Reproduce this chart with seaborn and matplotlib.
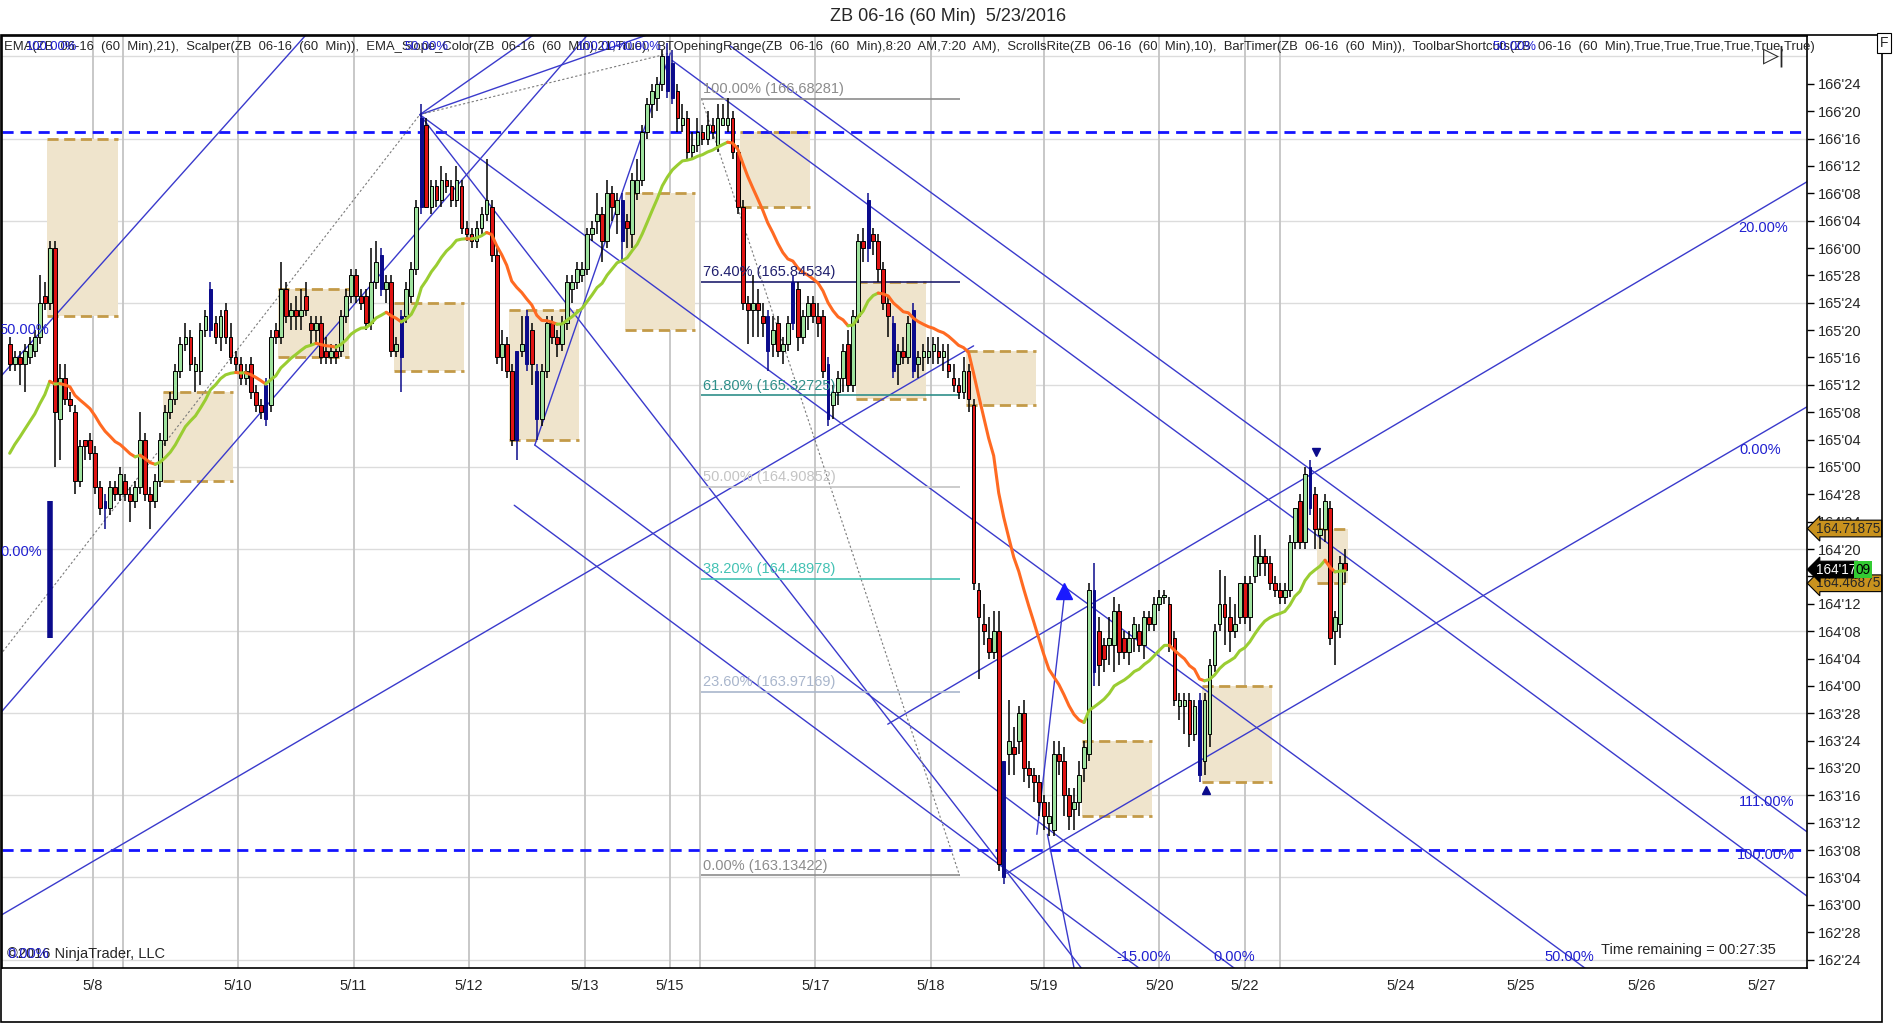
import matplotlib
matplotlib.use("Agg")
import matplotlib.pyplot as plt
import matplotlib.transforms as mtransforms
from matplotlib.patches import Rectangle
import numpy as np
import pandas as pd
import seaborn as sns

# ZB 06-16, 60 minute bars. Prices are in 32nds above 162'00 (162'24 -> 24, 166'24 -> 152)
opens = [114, 111, 112, 111, 112, 113, 115, 121, 120, 128, 103, 109, 106, 104, 94, 100, 100, 98, 93, 90,
         90, 93, 92, 94, 92, 91, 93, 100, 92, 91, 94, 100, 104, 106, 110, 114, 115, 110, 110, 116,
         116, 117, 115, 119, 115, 112, 111, 109, 111, 107, 105, 108, 105, 116, 115, 122, 118, 119, 118, 121,
         117, 116, 117, 113, 112, 113, 113, 118, 121, 124, 121, 121, 117, 123, 127, 122, 123, 113, 118, 118,
         121, 125, 134, 146, 134, 137, 135, 138, 137, 135, 137, 131, 130, 129, 131, 133, 134, 127, 112, 114,
         110, 100, 113, 118, 116, 110, 103, 110, 117, 115, 114, 117, 122, 123, 124, 125, 130, 132, 133, 129,
         136, 133, 135, 132, 130, 136, 138, 145, 149, 150, 152, 156, 155, 151, 146, 147, 142, 143, 145, 144,
         146, 143, 146, 146, 147, 142, 134, 120, 119, 120, 118, 118, 114, 117, 113, 114, 117, 122, 115, 118,
         120, 118, 118, 111, 105, 107, 109, 114, 108, 118, 129, 128, 130, 129, 125, 120, 117, 111, 113, 112,
         119, 111, 112, 112, 113, 113, 112, 111, 109, 108, 107, 110, 105, 78, 73, 71, 69, 72, 36, 54,
         55, 56, 60, 52, 51, 50, 47, 44, 43, 54, 53, 48, 46, 47, 52, 54, 78, 72, 70, 70,
         70, 75, 71, 69, 71, 72, 70, 74, 73, 76, 77, 76, 71, 61, 61, 62, 57, 62, 53, 57,
         67, 73, 76, 74, 72, 74, 79, 74, 80, 82, 83, 82, 79, 78, 77, 78, 85, 91, 85, 96,
         92, 86, 87, 90, 72, 73, 82]
highs = [115, 113, 113, 114, 115, 116, 124, 123, 129, 129, 111, 111, 107, 105, 100, 100, 101, 99, 94, 92,
         94, 94, 96, 95, 93, 94, 104, 101, 93, 95, 101, 105, 107, 111, 115, 117, 116, 112, 117, 119,
         123, 118, 119, 120, 117, 113, 112, 111, 112, 108, 106, 109, 116, 117, 126, 123, 120, 121, 122, 123,
         118, 118, 118, 115, 114, 114, 119, 122, 125, 125, 122, 122, 128, 129, 128, 124, 124, 115, 119, 123,
         126, 135, 149, 147, 138, 138, 140, 139, 138, 140, 138, 132, 131, 132, 134, 141, 135, 128, 116, 115,
         111, 113, 118, 119, 117, 111, 111, 118, 118, 116, 118, 124, 124, 126, 126, 131, 132, 136, 134, 138,
         137, 136, 136, 133, 139, 141, 146, 150, 152, 153, 157, 158, 157, 152, 149, 148, 145, 147, 146, 148,
         147, 149, 149, 150, 148, 143, 135, 121, 124, 122, 120, 119, 118, 118, 115, 118, 124, 123, 119, 121,
         121, 120, 119, 112, 108, 110, 114, 116, 119, 130, 131, 136, 131, 130, 126, 121, 118, 114, 115, 118,
         120, 113, 114, 115, 115, 115, 114, 114, 111, 109, 112, 111, 106, 79, 76, 74, 75, 75, 53, 62,
         58, 61, 62, 53, 52, 51, 48, 47, 56, 56, 55, 49, 49, 53, 56, 79, 82, 74, 71, 74,
         77, 76, 72, 72, 74, 73, 75, 75, 77, 78, 78, 77, 72, 63, 63, 63, 62, 63, 63, 68,
         73, 81, 80, 77, 76, 79, 80, 80, 86, 86, 84, 83, 80, 79, 79, 86, 90, 92, 96, 97,
         93, 90, 92, 91, 75, 83, 84]
lows = [110, 110, 108, 107, 111, 112, 114, 119, 119, 96, 97, 105, 104, 92, 93, 97, 97, 92, 89, 87,
        89, 91, 91, 91, 88, 90, 92, 91, 87, 90, 93, 99, 103, 105, 109, 113, 110, 107, 108, 115,
        115, 114, 113, 114, 111, 110, 108, 108, 106, 104, 103, 102, 104, 114, 114, 117, 116, 116, 116, 118,
        114, 114, 111, 111, 111, 111, 112, 117, 120, 120, 119, 116, 116, 122, 121, 120, 112, 112, 107, 117,
        120, 124, 133, 134, 133, 134, 134, 136, 134, 134, 130, 129, 128, 128, 130, 132, 126, 111, 110, 109,
        99, 97, 112, 110, 108, 100, 102, 109, 114, 112, 113, 116, 120, 122, 123, 124, 129, 130, 126, 128,
        132, 130, 126, 128, 128, 135, 137, 144, 147, 148, 151, 150, 149, 145, 145, 141, 141, 142, 143, 143,
        144, 142, 146, 145, 141, 133, 119, 114, 115, 115, 115, 110, 112, 112, 111, 113, 116, 113, 114, 116,
        117, 115, 109, 102, 103, 105, 107, 107, 107, 117, 126, 126, 127, 123, 119, 115, 109, 108, 111, 111,
        109, 109, 110, 111, 111, 111, 110, 109, 107, 106, 106, 104, 78, 65, 70, 68, 68, 37, 35, 51,
        51, 54, 50, 49, 47, 45, 43, 42, 42, 51, 45, 43, 43, 45, 50, 53, 64, 64, 66, 67,
        66, 67, 68, 67, 69, 69, 68, 72, 72, 75, 76, 69, 61, 59, 57, 55, 56, 50, 51, 55,
        66, 72, 70, 69, 71, 73, 73, 72, 79, 80, 80, 78, 77, 76, 76, 77, 84, 84, 84, 89,
        84, 84, 85, 70, 67, 71, 79]
closes = [111, 112, 111, 113, 114, 115, 120, 120, 128, 104, 109, 106, 105, 94, 99, 99, 98, 93, 90, 91,
          93, 92, 95, 92, 91, 93, 100, 92, 91, 94, 100, 104, 106, 110, 114, 115, 111, 111, 116, 118,
          122, 115, 118, 115, 112, 111, 109, 110, 107, 105, 104, 103, 115, 115, 122, 118, 119, 118, 119, 119,
          116, 117, 112, 112, 113, 112, 118, 121, 124, 121, 120, 117, 123, 126, 122, 123, 113, 114, 112, 122,
          125, 134, 147, 134, 137, 135, 138, 137, 135, 138, 131, 130, 129, 131, 133, 135, 127, 112, 114, 110,
          100, 113, 114, 111, 111, 103, 110, 117, 115, 114, 117, 123, 123, 125, 125, 130, 131, 133, 129, 136,
          134, 135, 129, 131, 138, 138, 145, 149, 151, 152, 156, 151, 150, 147, 147, 142, 143, 145, 144, 146,
          145, 147, 147, 147, 142, 134, 120, 119, 120, 119, 117, 113, 116, 113, 114, 117, 123, 115, 118, 120,
          118, 117, 110, 103, 107, 109, 113, 108, 118, 129, 128, 135, 129, 125, 120, 118, 110, 113, 112, 117,
          110, 112, 113, 113, 114, 112, 113, 110, 108, 107, 110, 106, 79, 74, 72, 69, 72, 38, 53, 56,
          54, 60, 52, 51, 50, 47, 45, 45, 54, 53, 48, 45, 47, 51, 55, 78, 66, 67, 68, 71,
          75, 69, 69, 71, 73, 70, 74, 73, 76, 77, 77, 70, 62, 62, 62, 57, 61, 51, 62, 67,
          72, 76, 74, 72, 73, 79, 74, 79, 83, 83, 82, 79, 78, 77, 78, 85, 90, 85, 95, 90,
          87, 87, 91, 71, 74, 82, 81]
blue_bars = [19, 40, 51, 74, 78, 82, 101, 103, 105, 122, 131, 132, 151, 156, 163, 171, 176, 180,
             198, 216, 237, 259]
ema_seed = 98

# session dates on the time axis (bar index) and the labels shown
day_pos = [16.5, 22.5, 45.5, 68.5, 91.5, 114.5, 131.5, 137.5, 160.5, 183.5, 206, 229, 246, 253,
           277, 301, 325, 349]
day_labels = ["5/8", "", "5/10", "5/11", "5/12", "5/13", "5/15", "", "5/17", "5/18", "5/19", "5/20",
              "5/22", "", "5/24", "5/25", "5/26", "5/27"]

# opening range boxes: first bar, number of bars, top, bottom
box_start = [8, 31, 54, 77, 100, 123, 146, 169, 191, 214, 238, 261]
box_len = [14, 14, 14, 14, 14, 14, 14, 14, 14, 14, 14, 6]
box_top = [144, 107, 122, 120, 119, 136, 145, 123, 113, 56, 64, 87]
box_bot = [118, 94, 112, 110, 100, 116, 134, 106, 105, 45, 50, 79]

# Fibonacci retracement
fib_pct = ["100.00%", "76.40%", "61.80%", "50.00%", "38.20%", "23.60%", "0.00%"]
fib_price = [166.68281, 165.84534, 165.32725, 164.90852, 164.48978, 163.97169, 163.13422]
fib_colors = ["#8c8c8c", "#20206e", "#2f8f8a", "#c4c4c4", "#44c2b4", "#a9b6cc", "#8c8c8c"]

# drawn trend lines / pitchfork lines: (bar, price) -> (bar, price)
trend_lines = [
    ((-4, 107.4), (62, 161.6)),
    ((-4, 58.2), (118, 161.6)),
    ((-1.9, 30.4), (192.0, 113.7)),
    ((81.7, 147.5), (106, 160.0)),
    ((81.7, 147.5), (133, 160.7)),
    ((104.6, 99.2), (131.6, 156.5)),
    ((100.5, 90.4), (230, 20.0)),
    ((104.6, 99.2), (250, 19.4)),
    ((81.7, 147.5), (320, 19.4)),
    ((81.7, 147.5), (217, 19.4)),
    ((132.0, 155.4), (358.5, 33.0)),
    ((143.4, 157.6), (358.5, 42.4)),
    ((174.9, 58.4), (358.5, 137.9)),
    ((198.6, 36.6), (358.5, 105.0)),
    ((210.1, 77.3), (204.6, 42.3)),
    ((206.7, 42.3), (212.0, 22.8)),
]
dotted_lines = [
    ((-1.9, 68.5), (81.7, 147.5)),
    ((81.7, 147.5), (131.6, 156.5)),
    ((137.8, 149.85), (189.2, 36.3)),
]
line_labels = [("20.00%", 349.2, 131.0), ("0.00%", 348.7, 98.5), ("111.00%", 349.9, 47.0),
               ("100.00%", 349.9, 39.3), ("-15.00%", 225.8, 24.3), ("0.00%", 243.9, 24.3),
               ("50.00%", 310.6, 24.3), ("50.00%", 2.9, 116.0), ("0.00%", 2.2, 83.5)]
level_lines = [145, 40]

sns.set_style("white")
plt.rcParams["font.family"] = ["Liberation Sans Narrow", "Liberation Sans", "DejaVu Sans"]

df = pd.DataFrame({"open": opens, "high": highs, "low": lows, "close": closes})
df["bar"] = np.arange(len(df))

fig = plt.figure(figsize=(18.96, 10.24), dpi=100)
ax = fig.add_axes([0.00105, 0.05469, 0.952, 0.9102])
ax.set_xlim(-1.53, 358.0)
ax.set_ylim(22.76, 159.0)

# grid
for t in range(24, 160, 12):
    ax.axhline(t, color="#dcdcdc", lw=1, zorder=0)
for p in day_pos[:14]:
    ax.axvline(p, color="#c4c4c4", lw=1.3, zorder=0)

# opening range boxes
for s, n, top, bot in zip(box_start, box_len, box_top, box_bot):
    ax.add_patch(Rectangle((s - 0.5, bot), n, top - bot, facecolor="#efe4cc", edgecolor="none", zorder=1))
    ax.hlines([top, bot], s - 0.5, s - 0.5 + n, colors="#c39a48", lw=2, linestyles=(0, (4, 2)), zorder=1.5)

# levels
for lv in level_lines:
    ax.axhline(lv, color="#1414ff", lw=2, ls=(0, (4, 2.5)), zorder=2)

# trend lines
for (x0, y0), (x1, y1) in trend_lines:
    ax.plot([x0, x1], [y0, y1], color="#3a3acc", lw=1, zorder=2)
for (x0, y0), (x1, y1) in dotted_lines:
    ax.plot([x0, x1], [y0, y1], color="#7a7a7a", lw=0.8, ls=(0, (2, 2)), zorder=2)
ax.vlines(7.95, 71, 91, color="#0b0b8c", lw=4, zorder=3)

# fibonacci
fib_ticks = [(p - 162) * 32 for p in fib_price]
for pct, p, t, c in zip(fib_pct, fib_price, fib_ticks, fib_colors):
    ax.hlines(t, 137.8, 189.2, color=c, lw=1.2, zorder=2)
    ax.text(138.2, t + 0.4, f"{pct} ({p:.5f})", color=c, fontsize=10.5, va="bottom", ha="left", zorder=6)

# candles
blue_set = set(blue_bars)
body_col, edge_col, widths = [], [], []
for i, (o, c) in enumerate(zip(opens, closes)):
    if i in blue_set:
        body_col.append("#0b0b8c"); edge_col.append("#0b0b8c"); widths.append(0.55)
    elif c >= o:
        body_col.append("#9ee29e"); edge_col.append("black"); widths.append(0.75)
    else:
        body_col.append("#e01414"); edge_col.append("black"); widths.append(0.75)
heights = [max(abs(c - o), 0.3) for o, c in zip(opens, closes)]
bottoms = [min(o, c) for o, c in zip(opens, closes)]
ax.vlines(df["bar"], df["low"], df["high"], colors=edge_col, lw=1.1, zorder=3)
ax.bar(df["bar"], heights, bottom=bottoms, width=widths, color=body_col, edgecolor=edge_col,
       linewidth=0.7, zorder=4)

# EMA(21) with slope colouring
ema = [ema_seed]
for c in closes[1:]:
    ema.append(ema[-1] + (c - ema[-1]) * 2 / 22)
ema = np.array(ema)
up = np.diff(ema) >= 0
start = 0
for k in range(1, len(up) + 1):
    if k == len(up) or up[k] != up[start]:
        xs = np.arange(start, k + 1)
        sns.lineplot(x=xs, y=ema[start:k + 1], color="#9acd32" if up[start] else "#ff6a22",
                     linewidth=2.2, ax=ax, zorder=5)
        start = k

# markers
ax.plot(210.1, 77.8, marker="^", color="#1a1aff", ms=11, zorder=6)
ax.plot(260.2, 98.2, marker="v", color="#0b0b8c", ms=6, zorder=6)
ax.plot(238.3, 48.8, marker="^", color="#0b0b8c", ms=6, zorder=6)
for txt, x, y in line_labels:
    ax.text(x, y, txt, color="#2020d0", fontsize=10.5, ha="center", va="center", zorder=6)

# axes
ax.yaxis.tick_right()
yt = list(range(24, 153, 4))
ax.set_yticks(yt)
ax.set_yticklabels([f"{162 + t // 32}'{t % 32:02d}" for t in yt], fontsize=10.5)
ax.set_xticks(day_pos)
ax.set_xticklabels(day_labels, fontsize=10.5)
ax.tick_params(axis="both", direction="out", length=5, width=1, color="black", pad=3)
for sp in ax.spines.values():
    sp.set_color("black")
    sp.set_linewidth(1.2)
ax.set_xlabel("")
ax.set_ylabel("")

# header, footer
header = ("EMA(ZB  06-16  (60  Min),21),  Scalper(ZB  06-16  (60  Min)),  EMA_Slope_Color(ZB  06-16  (60  Min),21,True),  "
          "BTOpeningRange(ZB  06-16  (60  Min),8:20  AM,7:20  AM),  ScrollsRite(ZB  06-16  (60  Min),10),  "
          "BarTimer(ZB  06-16  (60  Min)),  ToolbarShortcuts(ZB  06-16  (60  Min),True,True,True,True,True,True)")
ax.text(0.001, 0.988, header, transform=ax.transAxes, fontsize=9.4, ha="left", va="center", zorder=7)
for txt, fx in [("100.00%", 0.013), ("50.00%", 0.223), ("100.00%", 0.318), ("0.00%", 0.345), ("50.00%", 0.826)]:
    ax.text(fx, 0.988, txt, transform=ax.transAxes, fontsize=9.4, color="#2020d0", ha="left", va="center", zorder=7)
ax.text(0.003, 0.008, "©2016 NinjaTrader, LLC", transform=ax.transAxes, fontsize=10.5, ha="left", va="bottom")
ax.text(0.003, 0.008, "0.00%", transform=ax.transAxes, fontsize=10.5, color="#2020d0", ha="left", va="bottom")
ax.text(0.983, 0.012, "Time remaining = 00:27:35", transform=ax.transAxes, fontsize=10.5, ha="right", va="bottom")
ax.text(0.982, 0.978, "▷|", transform=ax.transAxes, fontsize=15, ha="center", va="center",
        family=["DejaVu Sans"])

# price markers on the axis
tr = mtransforms.blended_transform_factory(ax.transAxes, ax.transData)
ax.text(1.005, 87, "164.71875", transform=tr, fontsize=9.8, ha="left", va="center", zorder=8,
        bbox=dict(boxstyle="larrow,pad=0.1", fc="#c8921e", ec="black", lw=0.8), clip_on=False)
ax.text(1.005, 79, "164.46875", transform=tr, fontsize=9.8, ha="left", va="center", zorder=8,
        bbox=dict(boxstyle="larrow,pad=0.1", fc="#c8921e", ec="black", lw=0.8), clip_on=False)
ax.text(1.005, 81, "164'17", transform=tr, fontsize=9.8, ha="left", va="center", color="white", zorder=9,
        bbox=dict(boxstyle="larrow,pad=0.1", fc="black", ec="black", lw=0.8), clip_on=False)
ax.text(1.027, 81, "09", transform=tr, fontsize=9.8, ha="left", va="center", color="black", zorder=9,
        bbox=dict(boxstyle="square,pad=0.1", fc="#33cc33", ec="none"), clip_on=False)

fig.text(0.5, 0.984, "ZB 06-16 (60 Min)  5/23/2016", ha="center", va="center", fontsize=13)
fig.add_artist(Rectangle((0.0005, 0.002), 0.992, 0.964, transform=fig.transFigure, fill=False,
                         ec="black", lw=1.2))
fig.text(0.9935, 0.958, "F", ha="center", va="center", fontsize=10,
         bbox=dict(boxstyle="square,pad=0.2", fc="white", ec="black", lw=0.8))

fig.savefig("out.png", dpi=100)
